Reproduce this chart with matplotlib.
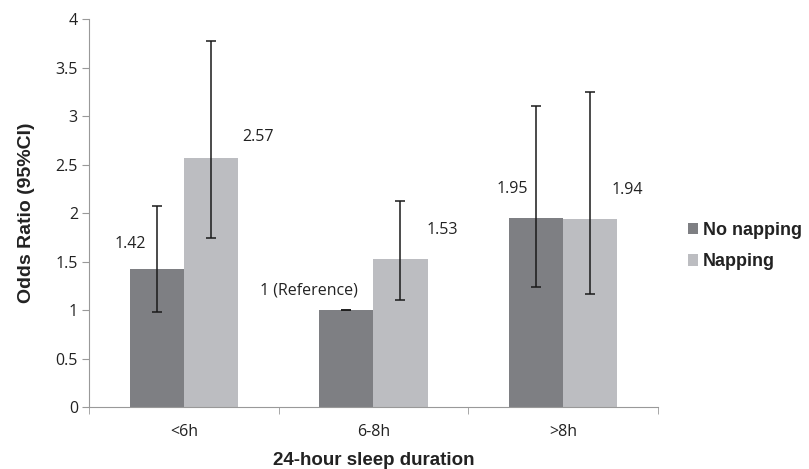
import numpy as np
import matplotlib.pyplot as plt

# data
categories = ['<6h', '6-8h', '>8h']
no_nap = [1.42, 1.00, 1.95]
no_nap_lo = [0.98, 1.00, 1.24]
no_nap_hi = [2.07, 1.00, 3.11]
nap = [2.57, 1.53, 1.94]
nap_lo = [1.74, 1.10, 1.165]
nap_hi = [3.78, 2.13, 3.25]
no_nap_labels = ['1.42', '1 (Reference)', '1.95']
nap_labels = ['2.57', '1.53', '1.94']

dark = '#7e7f83'
light = '#bcbdc1'

fig = plt.figure(figsize=(8.09, 4.69), dpi=100)
ax = fig.add_axes([0.110, 0.132, 0.703, 0.827])

x = np.arange(len(categories))
w = 1 / 3.5

err_no = [np.array(no_nap) - np.array(no_nap_lo), np.array(no_nap_hi) - np.array(no_nap)]
err_nap = [np.array(nap) - np.array(nap_lo), np.array(nap_hi) - np.array(nap)]

ax.bar(x - w / 2, no_nap, w, color=dark, label='No napping',
       yerr=err_no, capsize=3.3, error_kw=dict(ecolor='#1a1a1a', elinewidth=1.1, capthick=1.1))
ax.bar(x + w / 2, nap, w, color=light, label='Napping',
       yerr=err_nap, capsize=3.3, error_kw=dict(ecolor='#1a1a1a', elinewidth=1.1, capthick=1.1))

tick_font = 'Open Sans'
fs = 11.5
# data label offsets (points)
no_off = [(-19, 18), (-27, 14), (-17, 21)]
nap_off = [(34, 15), (30, 21), (27, 21)]
for i in range(len(categories)):
    ax.annotate(no_nap_labels[i], (x[i] - w / 2, no_nap[i]), xytext=no_off[i],
                textcoords='offset points', ha='center', va='center',
                fontsize=fs, family=tick_font, color='#222222')
    ax.annotate(nap_labels[i], (x[i] + w / 2, nap[i]), xytext=nap_off[i],
                textcoords='offset points', ha='center', va='center',
                fontsize=fs, family=tick_font, color='#222222')

ax.set_xlim(-0.5, 2.5)
ax.set_ylim(0, 4)
ax.set_yticks(np.arange(0, 4.01, 0.5))
ax.set_yticklabels(['0', '0.5', '1', '1.5', '2', '2.5', '3', '3.5', '4'],
                   family=tick_font, fontsize=fs, color='#222222')
ax.set_xticks(x)
ax.set_xticklabels(categories, family=tick_font, fontsize=fs, color='#222222')
ax.set_xticks([-0.5, 0.5, 1.5, 2.5], minor=True)
ax.tick_params(axis='x', which='major', length=0, pad=12)
ax.tick_params(axis='x', which='minor', length=5, color='#999999')
ax.tick_params(axis='y', length=5, color='#999999', pad=3)

for s in ['top', 'right']:
    ax.spines[s].set_visible(False)
ax.spines['left'].set_color('#999999')
ax.spines['bottom'].set_color('#999999')

ax.set_xlabel('24-hour sleep duration', fontsize=13.5, fontweight='bold',
              family='Liberation Sans', color='#222222', labelpad=9)
ax.set_ylabel('Odds Ratio (95%CI)', fontsize=14, fontweight='bold',
              family='Liberation Sans', color='#222222', labelpad=15)

leg = fig.legend(loc='center left', bbox_to_anchor=(0.850, 0.475), frameon=False,
                 borderpad=0, borderaxespad=0,
                 handlelength=0.6, handleheight=0.6, handletextpad=0.25,
                 labelspacing=0.8, prop=dict(family='Liberation Sans', weight='bold', size=13))
for t in leg.get_texts():
    t.set_color('#222222')

fig.savefig('out.png', dpi=100)
